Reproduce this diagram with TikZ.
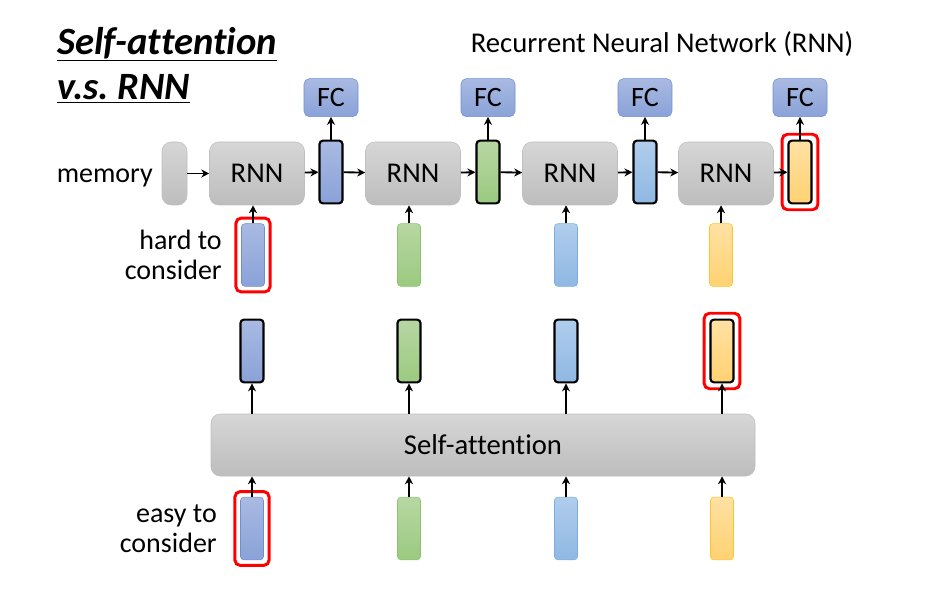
\documentclass[tikz,border=0pt]{standalone}
\usepackage{fontspec}
\setmainfont{Carlito}[Ligatures=NoCommon]
\usetikzlibrary{arrows.meta, positioning, fit}
\definecolor{greytop}{HTML}{D6D6D6}
\definecolor{greybot}{HTML}{BDBDBD}
\definecolor{greyline}{HTML}{BFBFBF}
\definecolor{bluetop}{HTML}{A9BAE2}
\definecolor{bluebot}{HTML}{8AA2D8}
\definecolor{blueline}{HTML}{6F8FD3}
\definecolor{greentop}{HTML}{B7D7A3}
\definecolor{greenbot}{HTML}{9BCA80}
\definecolor{greenline}{HTML}{8CC26E}
\definecolor{skytop}{HTML}{B0CDEC}
\definecolor{skybot}{HTML}{8FB8E3}
\definecolor{skyline}{HTML}{7DADE0}
\definecolor{oragtop}{HTML}{FFE1A3}
\definecolor{oragbot}{HTML}{FFD272}
\definecolor{oragline}{HTML}{FFC32E}
\tikzset{
  cell/.style={
    rectangle,
    rounded corners=7pt,
    draw=greyline,
    top color=greytop,
    bottom color=greybot,
    minimum width=71.25pt,
    minimum height=47.25pt,
    inner sep=0pt,
    font=\fontsize{21.5}{25}\selectfont
  },
  fc/.style={
    rectangle,
    rounded corners=4pt,
    draw=blueline,
    top color=bluetop,
    bottom color=bluebot,
    minimum width=40.5pt,
    minimum height=28.5pt,
    inner sep=0pt,
    font=\fontsize{21}{24}\selectfont
  },
  vec/.style={
    rectangle,
    rounded corners=2.5pt,
    minimum width=17.25pt,
    minimum height=47pt,
    inner sep=0pt
  },
  vblue/.style={vec, draw=blueline, top color=bluetop, bottom color=bluebot},
  vgreen/.style={vec, draw=greenline, top color=greentop, bottom color=greenbot},
  vsky/.style={vec, draw=skyline, top color=skytop, bottom color=skybot},
  vorag/.style={vec, draw=oragline, top color=oragtop, bottom color=oragbot},
  hid/.style={draw=black, line width=1.6pt},
  redframe/.style={rectangle, rounded corners=4pt, draw=red, line width=2.2pt, inner sep=4pt},
  txt/.style={align=right, inner sep=0pt, font=\fontsize{21}{22.5}\selectfont},
  arrow/.style={-{Stealth[length=6pt, width=6pt]}, line width=1.4pt}
}
\begin{document}
\begin{tikzpicture}[x=0.75pt, y=-0.75pt]
  \useasboundingbox (0,0) rectangle (927,595);

  % titles
  \node[anchor=north west, align=left, inner sep=0pt,
    font=\fontsize{29}{34}\selectfont\bfseries\itshape\frenchspacing] (title) at (57,27)
    {\underline{Self-attention}\\\underline{v.s. RNN}};
  \node[font=\fontsize{21.5}{24}\selectfont] (rnntitle) at (662,44) {Recurrent Neural Network (RNN)};

  % RNN chain
  \node[cell, minimum width=18.75pt] (mem) at (174.5,173.5) {};
  \node[txt, left=6.5pt of mem, yshift=-3pt] (memtxt) {memory};
  \node[cell] (rnn1) at (257,173.5) {RNN};
  \node[vblue, hid] (h1) at (331,172) {};
  \node[cell] (rnn2) at (413,173.5) {RNN};
  \node[vgreen, hid] (h2) at (488,172) {};
  \node[cell] (rnn3) at (570,173.5) {RNN};
  \node[vsky, hid] (h3) at (645,172) {};
  \node[cell] (rnn4) at (726,173.5) {RNN};
  \node[vorag, hid] (h4) at (800,172) {};
  \node[redframe, fit=(h4)] (h4red) {};

  \node[fc, above=17pt of h1] (fc1) {FC};
  \node[fc, above=17pt of h2] (fc2) {FC};
  \node[fc, above=17pt of h3] (fc3) {FC};
  \node[fc, above=17pt of h4] (fc4) {FC};

  \node[vblue] (x1) at (253,255) {};
  \node[vgreen] (x2) at (409,255) {};
  \node[vsky] (x3) at (566,255) {};
  \node[vorag] (x4) at (721,255) {};
  \node[redframe, fit=(x1)] (x1red) {};
  \node[txt, anchor=east] (hardtxt) at (222,255) {hard to\\consider};

  \draw[arrow] (mem) -- (rnn1);
  \draw[arrow] (rnn1) -- (h1);
  \draw[arrow] (h1) -- (rnn2);
  \draw[arrow] (rnn2) -- (h2);
  \draw[arrow] (h2) -- (rnn3);
  \draw[arrow] (rnn3) -- (h3);
  \draw[arrow] (h3) -- (rnn4);
  \draw[arrow] (rnn4) -- (h4);
  \draw[arrow] (h1) -- (fc1);
  \draw[arrow] (h2) -- (fc2);
  \draw[arrow] (h3) -- (fc3);
  \draw[arrow] (h4) -- (fc4);
  \draw[arrow] (x1) -- (x1 |- rnn1.south);
  \draw[arrow] (x2) -- (x2 |- rnn2.south);
  \draw[arrow] (x3) -- (x3 |- rnn3.south);
  \draw[arrow] (x4) -- (x4 |- rnn4.south);

  % self-attention
  \node[cell, minimum width=408pt, minimum height=46.5pt] (sa) at (483,445) {Self-attention};
  \node[vblue, hid] (y1) at (252,351) {};
  \node[vgreen, hid] (y2) at (409,351) {};
  \node[vsky, hid] (y3) at (566,351) {};
  \node[vorag, hid] (y4) at (722,351) {};
  \node[redframe, fit=(y4)] (y4red) {};

  \node[vblue] (a1) at (252,528.5) {};
  \node[vgreen] (a2) at (409,528.5) {};
  \node[vsky] (a3) at (566,528.5) {};
  \node[vorag] (a4) at (722,528.5) {};
  \node[redframe, fit=(a1)] (a1red) {};
  \node[txt, anchor=east] (easytxt) at (217,529) {easy to\\consider};

  \draw[arrow] (y1 |- sa.north) -- (y1);
  \draw[arrow] (y2 |- sa.north) -- (y2);
  \draw[arrow] (y3 |- sa.north) -- (y3);
  \draw[arrow] (y4 |- sa.north) -- (y4);
  \draw[arrow] (a1) -- (a1 |- sa.south);
  \draw[arrow] (a2) -- (a2 |- sa.south);
  \draw[arrow] (a3) -- (a3 |- sa.south);
  \draw[arrow] (a4) -- (a4 |- sa.south);
\end{tikzpicture}
\end{document}
